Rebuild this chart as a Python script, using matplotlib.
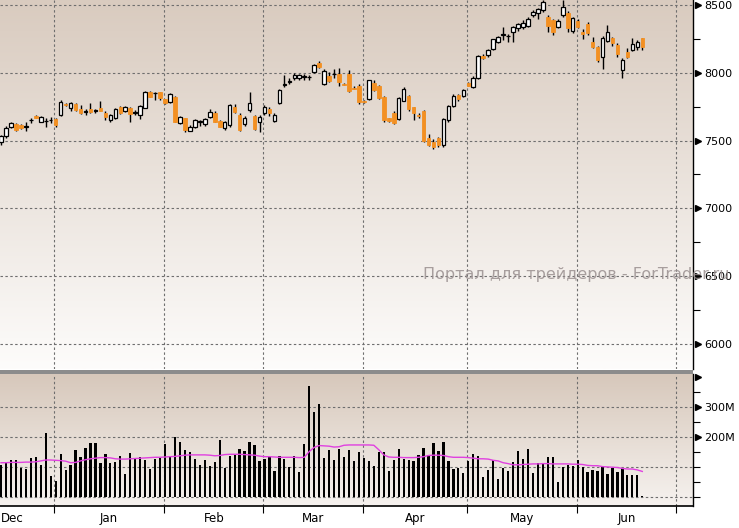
import numpy as np
import matplotlib
matplotlib.use("Agg")
import matplotlib.pyplot as plt
from matplotlib import transforms
from matplotlib.patches import Rectangle

opens = [7490,7534,7598,7622,7613,7600,7650,7678,7639,7645,
7650,7657,7689,7770,7740,7770,7733,7710,7733,7718,
7743,7706,7652,7669,7750,7720,7743,7704,7689,7743,
7861,7849,7858,7806,7787,7824,7632,7664,7573,7603,
7637,7622,7672,7701,7645,7590,7615,7750,7689,7622,
7726,7681,7639,7701,7733,7645,7775,7912,7932,7959,
7959,7970,7968,8008,8075,7917,7976,7990,7991,7918,
7991,7890,7905,7789,7806,7927,7903,7824,7664,7701,
7657,7794,7829,7745,7685,7718,7517,7492,7517,7467,
7652,7755,7836,7831,7927,7898,7964,8124,8131,8173,
8229,8280,8268,8299,8328,8340,8347,8426,8443,8463,
8414,8389,8340,8426,8439,8310,8384,8299,8360,8229,
8192,8119,8237,8254,8205,8021,8156,8168,8192,8254]

highs = [7541,7610,7640,7630,7625,7640,7669,7685,7680,7664,
7672,7665,7800,7775,7785,7775,7760,7735,7775,7735,
7790,7715,7695,7740,7755,7755,7750,7725,7765,7866,
7866,7861,7862,7810,7850,7830,7680,7670,7615,7660,
7655,7665,7730,7720,7650,7645,7770,7770,7700,7680,
7861,7690,7685,7760,7745,7700,7880,7984,7960,7995,
7990,7990,7985,8063,8085,8030,8005,8030,8035,7925,
8020,7900,7915,7800,7950,7945,7910,7830,7670,7720,
7820,7895,7835,7750,7700,7725,7545,7510,7530,7665,
7762,7840,7845,7880,7935,7975,8130,8140,8175,8250,
8270,8340,8285,8345,8370,8390,8410,8460,8480,8537,
8425,8400,8395,8537,8455,8410,8400,8320,8375,8265,
8200,8270,8350,8262,8220,8110,8180,8260,8240,8260]

lows = [7467,7520,7590,7571,7585,7572,7628,7665,7635,7603,
7630,7600,7680,7755,7720,7720,7695,7690,7705,7700,
7715,7655,7640,7660,7695,7710,7640,7690,7660,7738,
7820,7799,7800,7770,7780,7635,7625,7560,7568,7595,
7610,7610,7665,7635,7598,7580,7600,7705,7570,7610,
7712,7580,7566,7690,7680,7640,7770,7895,7915,7950,
7950,7945,7950,8000,8035,7910,7930,7960,7905,7910,
7860,7880,7770,7780,7800,7865,7805,7640,7640,7620,
7650,7790,7720,7652,7670,7490,7460,7440,7455,7450,
7640,7745,7795,7820,7900,7890,7955,8100,8120,8165,
8220,8245,8230,8230,8310,8325,8335,8415,8400,8450,
8300,8280,8330,8410,8300,8290,8330,8250,8280,8185,
8080,8028,8230,8200,8120,7962,8110,8160,8170,8170]

closes = [7534,7595,7628,7580,7595,7610,7655,7670,7676,7648,
7654,7615,7787,7760,7777,7726,7703,7715,7711,7722,
7718,7672,7689,7731,7701,7750,7694,7708,7755,7861,
7824,7851,7811,7775,7841,7639,7672,7578,7603,7652,
7641,7657,7713,7639,7603,7639,7763,7713,7578,7664,
7775,7585,7676,7745,7706,7689,7873,7918,7936,7984,
7984,7974,7972,8058,8041,8016,7939,7993,7930,7912,
7868,7884,7787,7786,7944,7873,7812,7652,7647,7632,
7812,7878,7733,7706,7683,7499,7467,7455,7467,7657,
7755,7829,7806,7873,7903,7960,8124,8107,8168,8247,
8262,8286,8273,8336,8360,8370,8395,8451,8470,8525,
8345,8303,8384,8483,8328,8402,8340,8286,8291,8192,
8094,8254,8303,8217,8139,8094,8119,8212,8225,8192]

volume_m = [107,114,123,123,98,93,129,132,107,212,
70,53,143,90,107,157,132,162,179,179,
112,142,112,116,137,77,146,126,134,123,
93,126,131,177,132,201,183,157,149,126,
107,123,103,116,190,98,137,138,160,153,
183,173,121,127,134,88,137,127,99,137,
84,177,368,281,310,131,157,123,160,134,
157,118,148,131,118,103,148,148,88,123,
160,127,123,121,140,164,140,181,153,184,
121,93,98,81,121,143,137,68,90,123,
60,98,88,116,153,127,160,81,112,112,
132,132,51,101,107,104,123,101,84,90,
88,101,77,96,82,98,73,73,73,3]

volume_ma_m = [114,114,115,115,115,116,116,117,120,123,
123,122,121,119,114,115,120,124,127,129,
131,131,130,127,126,126,127,128,129,130,
131,132,132,133,134,135,137,139,140,140,
140,140,139,137,138,141,142,142,142,141,
140,139,136,134,134,133,132,132,132,132,
131,132,151,165,171,170,169,166,167,172,
173,173,173,173,173,172,157,140,133,132,
132,131,131,131,132,134,138,139,139,138,
134,132,132,132,131,129,127,127,126,122,
120,114,111,107,107,108,109,110,110,111,
111,110,110,110,110,109,109,108,105,104,
104,101,100,99,98,95,93,93,90,85]

month_labels = ["Dec", "Jan", "Feb", "Mar", "Apr", "May", "Jun"]
month_bounds = [10.7, 32.8, 52.8, 72.9, 93.8, 115.8, 135.8]
price_ticks = [6000, 6500, 7000, 7500, 8000, 8500]
vol_ticks = [200, 300]
watermark = "Портал для трейдеров - ForTrader.ru"

W, H = 739, 528
fig = plt.figure(figsize=(W / 100, H / 100), dpi=100)
fig.patch.set_facecolor("white")

xr = 693 / W
ax_p = fig.add_axes([0, 1 - 369 / H, xr, 369 / H])
ax_v = fig.add_axes([0, 1 - 506 / H, xr, (506 - 374) / H])

xlim = (-0.2, 139.2)
p_ylim = (5815, 8537)
v_ylim = (-30, 409)

def gradient(ax, top, bottom, ylim):
    top = np.array(matplotlib.colors.to_rgb(top))
    bottom = np.array(matplotlib.colors.to_rgb(bottom))
    t = np.linspace(0, 1, 256)[:, None]
    img = (top * (1 - t) + bottom * t)[:, None, :]
    ax.imshow(img, extent=[xlim[0], xlim[1], ylim[0], ylim[1]],
              aspect="auto", origin="upper", zorder=0, interpolation="bilinear")

gradient(ax_p, "#d9cbbf", "#fdfcfb", p_ylim)
gradient(ax_v, "#d7c8bb", "#f6f2ef", v_ylim)

grid_kw = dict(color="#6e6e6e", lw=0.8, ls=(0, (2.2, 2.2)), zorder=1)
for ax in (ax_p, ax_v):
    ax.set_xlim(*xlim)
    for b in month_bounds:
        ax.axvline(b, **grid_kw)
for v in price_ticks:
    ax_p.axhline(v, **grid_kw)
for v in [0, 100, 200, 300]:
    ax_v.axhline(v, **grid_kw)

ax_p.set_ylim(*p_ylim)
ax_v.set_ylim(*v_ylim)

# candles
x = np.arange(len(closes))
o = np.array(opens); c = np.array(closes)
h = np.array(highs); l = np.array(lows)
up = c >= o
orange = "#f39022"
ax_p.vlines(x, l, h, color="black", lw=1.0, zorder=2)
body_lo = np.minimum(o, c)
body_h = np.maximum(np.abs(c - o), 3)
ax_p.bar(x[up], body_h[up], bottom=body_lo[up], width=0.72,
         facecolor="white", edgecolor="black", lw=0.9, zorder=3)
ax_p.bar(x[~up], body_h[~up], bottom=body_lo[~up], width=0.72,
         facecolor=orange, edgecolor=orange, lw=0.6, zorder=3)

# volume
ax_v.bar(x, volume_m, width=0.45, color="black", zorder=2)
ax_v.plot(x, volume_ma_m, color="#e040e0", lw=1.0, zorder=3)

# spines
for ax in (ax_p, ax_v):
    for s in ("left", "top"):
        ax.spines[s].set_visible(False)
    ax.spines["right"].set_color("black")
    ax.spines["right"].set_linewidth(1.0)
ax_p.spines["bottom"].set_visible(False)
ax_v.spines["bottom"].set_color("black")
ax_v.spines["bottom"].set_linewidth(1.2)

# price axis
ax_p.yaxis.tick_right()
ax_p.set_yticks(price_ticks)
ax_p.set_yticklabels([str(v) for v in price_ticks])
ax_p.set_yticks([6250, 6750, 7250, 7750, 8250], minor=True)
ax_p.tick_params(axis="y", which="major", length=0, pad=8, labelsize=8)
ax_p.tick_params(axis="y", which="minor", length=5, width=0.8, direction="out")
ax_p.set_xticks([])

# volume axis
ax_v.yaxis.tick_right()
ax_v.set_yticks(vol_ticks)
ax_v.set_yticklabels([f"{v}M" for v in vol_ticks])
ax_v.set_yticks([0, 50, 100, 150, 250, 350], minor=True)
ax_v.tick_params(axis="y", which="major", length=0, pad=8, labelsize=8)
ax_v.tick_params(axis="y", which="minor", length=5, width=0.8, direction="out")

ax_v.set_xticks(month_bounds)
ax_v.set_xticklabels([])
ax_v.tick_params(axis="x", which="major", length=5, width=0.8, direction="out")
centers = [2.2] + [(month_bounds[i] + month_bounds[i + 1]) / 2 for i in range(len(month_bounds) - 1)]
ax_v.set_xticks(centers, minor=True)
ax_v.set_xticklabels(month_labels, minor=True)
ax_v.tick_params(axis="x", which="minor", length=0, pad=4, labelsize=8.5)

# arrow markers at major ticks
for ax, vals in ((ax_p, price_ticks), (ax_v, [200, 300, 400])):
    tr = transforms.blended_transform_factory(ax.transAxes, ax.transData)
    ax.plot([1 + 4.5 / 693] * len(vals), vals, ls="none", marker=">",
            markersize=5, color="black", transform=tr, clip_on=False, zorder=5)

# separator band
fig.add_artist(Rectangle((0, 1 - 373.5 / H), xr, 3.5 / H, transform=fig.transFigure,
                         facecolor="#8c8c8c", edgecolor="none", zorder=10))

# watermark
fig.text(423 / W, 1 - 275 / H, watermark, color="#9a9090", alpha=0.85,
         fontsize=11.5, va="center", ha="left", zorder=20)

fig.savefig("out.png", dpi=100)
